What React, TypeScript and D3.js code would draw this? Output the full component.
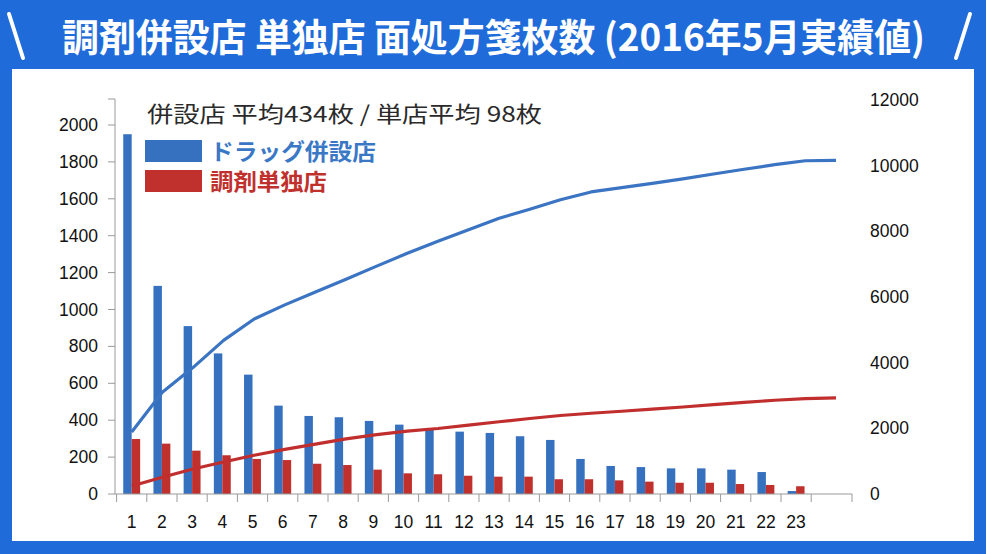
import React from "react";
import * as d3 from "d3";

const categories = ["1","2","3","4","5","6","7","8","9","10","11","12","13","14","15","16","17","18","19","20","21","22","23"];
const drugValues = [1950,1128,910,762,647,479,423,416,396,376,354,338,331,313,293,190,152,146,139,139,132,119,16];
const soloValues = [298,273,235,210,190,184,164,157,132,112,107,99,94,94,80,80,74,67,61,61,54,49,42];
const drugCumulative = [1890,3100,3850,4680,5330,5760,6150,6540,6940,7330,7700,8050,8400,8670,8960,9200,9330,9460,9600,9745,9890,10030,10150,10160];
const soloCumulative = [244,510,760,975,1180,1360,1520,1680,1810,1915,1995,2100,2200,2300,2390,2460,2520,2585,2650,2720,2790,2855,2905,2930];
const leftTicks = [0,200,400,600,800,1000,1200,1400,1600,1800,2000];
const rightTicks = [0,2000,4000,6000,8000,10000,12000];

const titleText = "調剤併設店 単独店 面処方箋枚数 (2016年5月実績値)";
const subtitleText = "併設店 平均434枚 / 単店平均 98枚";
const legendDrug = "ドラッグ併設店";
const legendSolo = "調剤単独店";

const BLUE_BG = "#1f6bd9";
const BAR_BLUE = "#3571be";
const BAR_RED = "#c0312e";
const LINE_BLUE = "#3a74c2";
const LINE_RED = "#c02f2d";
const AXIS = "#9a9a9a";
const FONT = "'Liberation Sans', Arial, sans-serif";
const CJK = "'Noto Sans CJK JP', 'Noto Sans', sans-serif";

export default function App() {
  const W = 986, H = 554;
  const y0 = 494;
  const yLeft = d3.scaleLinear().domain([0, 2000]).range([y0, 125]);
  const yRight = d3.scaleLinear().domain([0, 12000]).range([y0, 100]);
  const bandDomain = [...categories, ""];
  const x = d3.scaleBand<string>().domain(bandDomain).range([116.6, 841.4]).padding(0);
  const bw = x.bandwidth() * 0.28;
  const xLine = d3.scaleLinear().domain([0, drugCumulative.length - 1]).range([131.7, 836]);
  const lineGen = (ys: number[]) =>
    d3.line<number>().x((_, i) => xLine(i)).y((v) => yRight(v)).curve(d3.curveLinear)(ys) || "";
  const bounds = bandDomain.map((c) => x(c) as number);

  return (
    <div style={{ position: "fixed", left: 0, top: 0, width: W, height: H }}>
      <svg width={W} height={H} style={{ display: "block" }}>
        <rect x={0} y={0} width={W} height={H} fill={BLUE_BG} />
        <rect x={12} y={69} width={962} height={472} fill="#ffffff" />
        {/* title */}
        <line x1={9} y1={14} x2={23} y2={58} stroke="#fff" strokeWidth={4} strokeLinecap="round" />
        <line x1={970} y1={14} x2={956} y2={58} stroke="#fff" strokeWidth={4} strokeLinecap="round" />
        <text x={62} y={51} fill="#fff" fontFamily={CJK} fontWeight={700} fontSize={38}
          textLength={863} lengthAdjust="spacingAndGlyphs">{titleText}</text>

        {/* bars */}
        {categories.map((c, i) => {
          const xc = (x(c) as number) + x.bandwidth() / 2;
          return (
            <g key={c}>
              <rect x={xc - bw} y={yLeft(drugValues[i])} width={bw} height={y0 - yLeft(drugValues[i])} fill={BAR_BLUE} />
              <rect x={xc} y={yLeft(soloValues[i])} width={bw} height={y0 - yLeft(soloValues[i])} fill={BAR_RED} />
            </g>
          );
        })}

        {/* cumulative lines */}
        <path d={lineGen(drugCumulative)} fill="none" stroke={LINE_BLUE} strokeWidth={3.2} strokeLinejoin="round" />
        <path d={lineGen(soloCumulative)} fill="none" stroke={LINE_RED} strokeWidth={3.2} strokeLinejoin="round" />

        {/* left axis */}
        <line x1={115} y1={99} x2={115} y2={y0} stroke={AXIS} strokeWidth={1} />
        <line x1={108} y1={99} x2={115} y2={99} stroke={AXIS} strokeWidth={1} />
        {leftTicks.map((t) => (
          <g key={"l" + t}>
            <line x1={108} x2={115} y1={yLeft(t)} y2={yLeft(t)} stroke={AXIS} strokeWidth={1} />
            <text x={98} y={yLeft(t) + 6} textAnchor="end" fontFamily={FONT} fontSize={17.5} fill="#111">{t}</text>
          </g>
        ))}
        {/* right axis labels */}
        {rightTicks.map((t) => (
          <text key={"r" + t} x={870} y={yRight(t) + 6} fontFamily={FONT} fontSize={17.5} fill="#111">{t}</text>
        ))}

        {/* x axis */}
        <line x1={115} x2={852} y1={y0} y2={y0} stroke={AXIS} strokeWidth={1.2} />
        {bounds.map((b, i) => (
          <line key={"t" + i} x1={b} x2={b} y1={y0} y2={y0 + 8} stroke={AXIS} strokeWidth={1} />
        ))}
        <line x1={852} x2={852} y1={y0} y2={y0 + 8} stroke={AXIS} strokeWidth={1} />
        {categories.map((c) => (
          <text key={"x" + c} x={(x(c) as number) + x.bandwidth() / 2} y={528} textAnchor="middle"
            fontFamily={FONT} fontSize={17.5} fill="#111">{c}</text>
        ))}

        {/* subtitle and legend */}
        <text x={147} y={122} fontFamily={CJK} fontSize={22} fill="#2a2a2a"
          textLength={395} lengthAdjust="spacingAndGlyphs">{subtitleText}</text>
        <rect x={145} y={140} width={57} height={22} fill={BAR_BLUE} />
        <text x={210} y={160} fontFamily={CJK} fontWeight={700} fontSize={22.5} fill="#3a78c6"
          textLength={166} lengthAdjust="spacingAndGlyphs">{legendDrug}</text>
        <rect x={145} y={170} width={57} height={22} fill={BAR_RED} />
        <text x={210} y={190} fontFamily={CJK} fontWeight={700} fontSize={22.5} fill="#c0312e"
          textLength={117} lengthAdjust="spacingAndGlyphs">{legendSolo}</text>
      </svg>
    </div>
  );
}
